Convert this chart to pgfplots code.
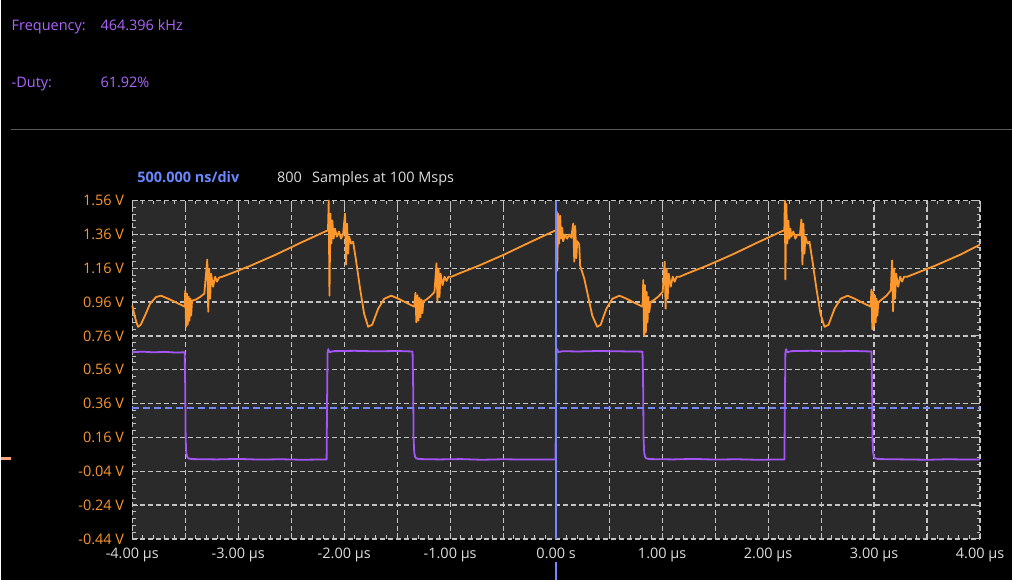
\documentclass[border=0pt]{standalone}
\usepackage{fontspec}
\setmainfont{Open Sans}
\usepackage{pgfplots}
\pgfplotsset{compat=1.18}
\definecolor{plotbg}{RGB}{42,42,42}
\definecolor{gridc}{RGB}{195,195,195}
\definecolor{orangew}{RGB}{255,152,44}
\definecolor{orangelab}{RGB}{248,150,48}
\definecolor{purplew}{RGB}{165,85,245}
\definecolor{purpletext}{RGB}{172,102,252}
\definecolor{bluel}{RGB}{115,135,255}
\definecolor{bluetext}{RGB}{105,135,255}
\definecolor{graytext}{RGB}{220,220,220}
\definecolor{sepline}{RGB}{90,90,90}
\definecolor{marker}{RGB}{255,165,130}
\newcommand{\uifont}{\fontsize{14.5}{17}\selectfont}
\begin{document}
\begin{tikzpicture}[x=1pt,y=1pt]
\fill[black] (0,0) rectangle (1012,581);
\draw[sepline, line width=1pt] (10,451) -- (1012,451);
\node[anchor=base west, text=purpletext, font=\uifont, inner sep=0] at (10,550) {Frequency:};
\node[anchor=base west, text=purpletext, font=\uifont, inner sep=0] at (99,550) {464.396 kHz};
\node[anchor=base west, text=purpletext, font=\uifont, inner sep=0] at (10,493) {-Duty:};
\node[anchor=base west, text=purpletext, font=\uifont, inner sep=0] at (99,493) {61.92\%};
\node[anchor=base west, text=bluetext, font=\uifont\bfseries, inner sep=0] at (136,398) {500.000 ns/div};
\node[anchor=base west, text=graytext, font=\uifont, inner sep=0] at (276,398) {800};
\node[anchor=base west, text=graytext, font=\uifont, inner sep=0] at (311,398) {Samples at 100 Msps};
\draw[marker, line width=3pt] (0,122) -- (10,122);
\begin{axis}[
  at={(131pt,41pt)}, anchor=south west,
  scale only axis, width=849.5pt, height=339pt,
  xmin=-4, xmax=4, ymin=-0.44, ymax=1.56,
  axis background/.style={fill=plotbg},
  axis line style={draw=none},
  xtick={-4,-3.5,-3,-2.5,-2,-1.5,-1,-0.5,0,0.5,1,1.5,2,2.5,3,3.5,4},
  xticklabels={{-4.00 µs},{},{-3.00 µs},{},{-2.00 µs},{},{-1.00 µs},{},{0.00 s},{},{1.00 µs},{},{2.00 µs},{},{3.00 µs},{},{4.00 µs}},
  ytick={-0.44,-0.24,-0.04,0.16,0.36,0.56,0.76,0.96,1.16,1.36,1.56},
  yticklabels={{-0.44 V},{-0.24 V},{-0.04 V},{0.16 V},{0.36 V},{0.56 V},{0.76 V},{0.96 V},{1.16 V},{1.36 V},{1.56 V}},
  minor x tick num=4, minor y tick num=4,
  tick align=inside,
  major tick length=6pt, minor tick length=3.5pt,
  tick style={draw=gridc, line width=1pt},
  grid=major,
  major grid style={draw=gridc, line width=1.2pt, dash pattern=on 5pt off 3pt},
  xticklabel style={text=graytext, font=\uifont, inner sep=0pt, anchor=north, yshift=-9pt},
  yticklabel style={text=orangelab, font=\uifont, inner sep=0pt, anchor=east, xshift=-8pt},
  clip=false,
]
% orange channel
\addplot[orangew, line width=1.8pt, line join=round] coordinates {
(-4.000,0.940)(-3.985,0.900)(-3.965,0.850)(-3.945,0.814)(-3.920,0.826)(-3.880,0.880)(-3.832,0.950)(-3.775,0.990)(-3.730,0.998)(-3.660,0.980)(-3.580,0.956)(-3.505,0.933)
(-3.500,1.027)(-3.492,0.814)(-3.484,1.010)(-3.476,0.826)(-3.468,0.992)(-3.460,0.850)(-3.452,0.980)(-3.444,0.880)(-3.436,0.968)
(-3.400,0.975)(-3.360,0.990)(-3.320,1.010)
(-3.292,1.211)(-3.283,0.903)(-3.274,1.158)(-3.265,0.980)(-3.256,1.128)(-3.237,1.051)(-3.218,1.110)(-3.200,1.081)(-3.181,1.105)(-3.150,1.110)
(-3.074,1.128)(-2.884,1.175)(-2.647,1.240)(-2.410,1.311)(-2.163,1.382)
(-2.153,1.382)(-2.146,1.560)(-2.139,0.998)(-2.130,1.483)(-2.121,1.306)(-2.112,1.442)(-2.100,1.335)(-2.087,1.394)(-2.068,1.347)(-2.049,1.377)(-2.030,1.335)(-2.011,1.359)
(-1.992,1.483)(-1.982,1.182)(-1.973,1.424)(-1.963,1.246)(-1.954,1.347)(-1.935,1.306)(-1.916,1.317)
(-1.888,1.205)(-1.850,1.039)(-1.812,0.891)(-1.774,0.814)(-1.736,0.826)(-1.679,0.921)(-1.622,0.980)(-1.556,0.998)(-1.489,0.980)(-1.414,0.956)(-1.338,0.933)
(-1.328,1.015)(-1.319,0.840)(-1.309,1.000)(-1.300,0.850)(-1.290,0.985)(-1.281,0.870)(-1.271,0.975)(-1.262,0.895)(-1.253,0.965)
(-1.224,0.975)(-1.186,0.995)(-1.148,1.020)
(-1.129,1.190)(-1.120,0.960)(-1.110,1.158)(-1.101,0.990)(-1.091,1.128)(-1.072,1.060)(-1.053,1.110)(-1.035,1.085)(-1.016,1.110)(-0.987,1.110)
(-0.921,1.128)(-0.731,1.175)(-0.494,1.240)(-0.257,1.311)(-0.013,1.382)
(0.000,1.382)(0.005,1.495)(0.010,1.146)(0.019,1.483)(0.028,1.306)(0.038,1.470)(0.047,1.335)(0.057,1.400)(0.066,1.320)(0.085,1.360)(0.104,1.335)(0.123,1.360)(0.142,1.340)
(0.161,1.424)(0.171,1.199)(0.180,1.410)(0.190,1.220)(0.199,1.320)(0.218,1.300)
(0.226,1.175)(0.265,1.100)(0.303,0.990)(0.341,0.880)(0.387,0.814)(0.420,0.826)
(0.474,0.921)(0.531,0.980)(0.597,0.998)(0.664,0.980)(0.739,0.956)(0.815,0.933)
(0.822,1.090)(0.830,0.760)(0.838,1.060)(0.846,0.780)(0.854,1.020)(0.862,0.840)(0.870,0.990)(0.878,0.900)(0.890,0.960)
(0.929,0.975)(0.967,0.995)(1.005,1.020)
(1.024,1.199)(1.033,0.921)(1.043,1.158)(1.052,0.980)(1.062,1.128)(1.081,1.051)(1.100,1.110)(1.118,1.081)(1.137,1.110)(1.166,1.110)
(1.232,1.128)(1.422,1.175)(1.659,1.240)(1.896,1.311)(2.140,1.382)
(2.153,1.382)(2.158,1.560)(2.163,1.094)(2.172,1.540)(2.181,1.306)(2.191,1.442)(2.200,1.335)(2.210,1.394)(2.219,1.347)(2.238,1.377)(2.257,1.335)(2.276,1.359)
(2.300,1.355)(2.314,1.448)(2.324,1.182)(2.333,1.424)(2.343,1.246)(2.352,1.347)(2.371,1.306)(2.390,1.317)
(2.418,1.205)(2.456,1.039)(2.494,0.891)(2.532,0.814)(2.570,0.826)(2.627,0.921)(2.684,0.980)(2.750,0.998)(2.817,0.980)(2.892,0.956)(2.968,0.933)
(2.975,1.035)(2.983,0.800)(2.991,1.020)(2.999,0.820)(3.007,1.000)(3.015,0.840)(3.023,0.980)(3.031,0.880)(3.040,0.960)
(3.082,0.980)(3.120,1.000)(3.158,1.030)
(3.170,1.206)(3.179,0.905)(3.189,1.158)(3.198,0.980)(3.208,1.128)(3.227,1.051)(3.246,1.110)(3.264,1.081)(3.283,1.110)(3.312,1.110)
(3.385,1.128)(3.575,1.175)(3.812,1.240)(4.000,1.300)
};
% purple channel
\addplot[purplew, line width=1.8pt, line join=round] coordinates {
(-4.000,0.664)(-3.900,0.667)(-3.800,0.663)(-3.700,0.666)(-3.600,0.662)(-3.505,0.663)
(-3.500,0.450)(-3.496,0.150)(-3.490,0.070)(-3.482,0.045)(-3.470,0.036)(-3.440,0.032)
(-3.200,0.030)(-3.000,0.033)(-2.800,0.029)(-2.600,0.031)(-2.400,0.028)(-2.166,0.030)
(-2.162,0.350)(-2.157,0.660)(-2.150,0.682)(-2.140,0.664)(-2.100,0.670)(-1.900,0.672)(-1.700,0.669)(-1.500,0.671)(-1.355,0.668)
(-1.349,0.450)(-1.345,0.150)(-1.339,0.070)(-1.331,0.045)(-1.319,0.036)(-1.290,0.032)
(-1.100,0.030)(-0.900,0.032)(-0.700,0.028)(-0.500,0.031)(-0.300,0.029)(-0.006,0.030)
(-0.002,0.350)(0.003,0.660)(0.010,0.682)(0.020,0.664)(0.060,0.670)(0.200,0.668)(0.400,0.671)(0.600,0.669)(0.815,0.667)
(0.821,0.450)(0.825,0.150)(0.831,0.070)(0.839,0.045)(0.851,0.036)(0.880,0.032)
(1.100,0.030)(1.300,0.033)(1.500,0.029)(1.700,0.031)(1.900,0.028)(2.154,0.030)
(2.158,0.350)(2.163,0.660)(2.170,0.682)(2.180,0.664)(2.220,0.670)(2.400,0.672)(2.600,0.669)(2.800,0.671)(2.975,0.668)
(2.981,0.450)(2.985,0.150)(2.991,0.070)(2.999,0.045)(3.011,0.036)(3.040,0.032)
(3.300,0.030)(3.500,0.028)(3.700,0.031)(3.900,0.029)(4.000,0.030)
};
% trigger level
\addplot[bluel, line width=2.2pt, dash pattern=on 7pt off 4pt] coordinates {(-4,0.335)(4,0.335)};
% trigger time
\addplot[bluel, line width=2.4pt] coordinates {(0,1.56)(0,-0.44)};
\addplot[bluel, line width=2.4pt] coordinates {(0,-0.576)(0,-0.682)};
\end{axis}
\end{tikzpicture}
\end{document}
